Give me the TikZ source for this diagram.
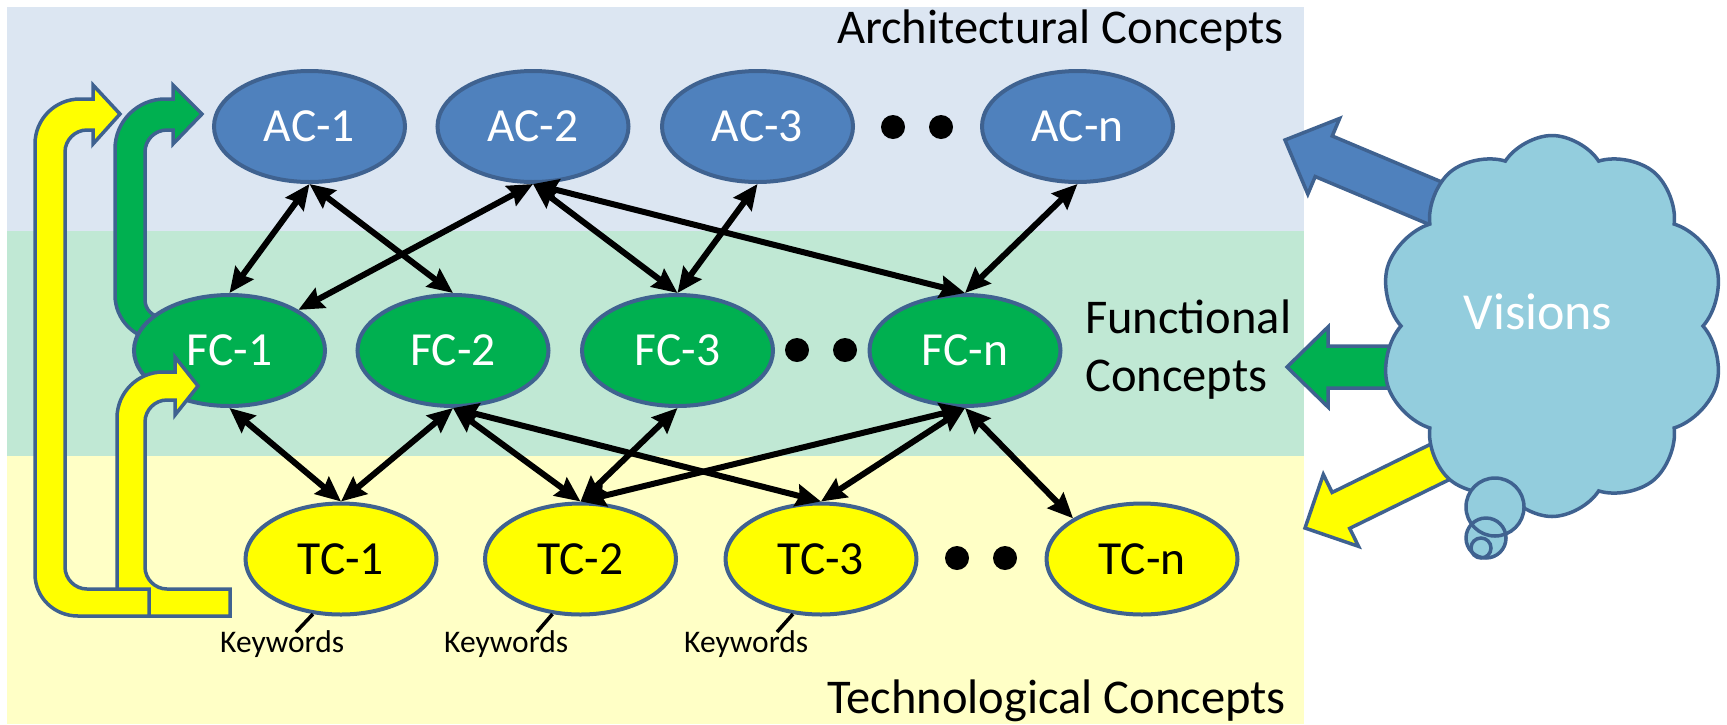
\documentclass[tikz,border=0pt]{standalone}
\usepackage{fontspec}
\setmainfont{Carlito}
\usetikzlibrary{shapes.geometric,shapes.symbols,arrows.meta}
\definecolor{bandblue}{RGB}{220,230,242}
\definecolor{bandgreen}{RGB}{192,232,212}
\definecolor{bandyellow}{RGB}{255,255,198}
\definecolor{acfill}{HTML}{4F81BD}
\definecolor{fcfill}{HTML}{00B050}
\definecolor{tcfill}{HTML}{FFFF00}
\definecolor{edgeblue}{HTML}{3F6290}
\definecolor{cloudfill}{HTML}{93CDDD}
\begin{document}
\begin{tikzpicture}[x=1pt,y=-1pt,
  conc/.style={ellipse, draw=edgeblue, line width=4pt, minimum width=191pt, minimum height=111pt, inner sep=0pt, font=\fontsize{47.5pt}{52pt}\selectfont},
  ac/.style={conc, fill=acfill, text=white},
  fc/.style={conc, fill=fcfill, text=white},
  tc/.style={conc, fill=tcfill, text=black},
  link/.style={{Stealth[length=25pt,width=22pt,inset=3pt]}-{Stealth[length=25pt,width=22pt,inset=3pt]}, line width=6pt, black},
  dotmark/.style={circle, fill=black, minimum size=24pt, inner sep=0pt},
  blockarrow/.style={draw=edgeblue, line width=3.5pt, line join=miter},
  bandlabel/.style={font=\fontsize{48.5pt}{58pt}\selectfont, inner sep=0pt},
  kwlabel/.style={font=\fontsize{31.5pt}{35pt}\selectfont, inner sep=0pt},
  kwtick/.style={line width=3.5pt, black}
]
\useasboundingbox (0,0) rectangle (1727,724);
\fill[white] (0,0) rectangle (1727,724);
% bands
\fill[bandblue] (7,7) rectangle (1304,231);
\fill[bandgreen] (7,231) rectangle (1304,456);
\fill[bandyellow] (7,456) rectangle (1304,724);

% block arrows from the cloud
\begin{scope}[shift={(1285,140)}, rotate=-22.8]
  \filldraw[blockarrow, fill=acfill] (0,0) -- (42,41) -- (42,22) -- (200,22) -- (200,-22) -- (42,-22) -- (42,-41) -- cycle;
\end{scope}
\begin{scope}[shift={(1287,367)}]
  \filldraw[blockarrow, fill=fcfill] (0,0) -- (41,40) -- (41,21) -- (150,21) -- (150,-21) -- (41,-21) -- (41,-40) -- cycle;
\end{scope}
\begin{scope}[shift={(1305,528)}, rotate=26.1]
  \filldraw[blockarrow, fill=tcfill] (0,0) -- (40,40) -- (40,20) -- (190,20) -- (190,-20) -- (40,-20) -- (40,-40) -- cycle;
\end{scope}

% cloud
\node[cloud, cloud puffs=10, cloud puff arc=115, aspect=0.92, minimum width=346pt, minimum height=381pt,
      draw=edgeblue, fill=cloudfill, line width=3.5pt] (vision) at (1552,326) {};
\node[text=white, font=\fontsize{52pt}{56pt}\selectfont, inner sep=0pt] (visionlbl) at (1538,312) {Visions};
\fill[cloudfill] (1495,507) circle (29);
\fill[cloudfill] (1486,538) circle (20);
\fill[cloudfill] (1481,548) circle (10);
\draw[edgeblue, line width=3.5pt] (1495,507) circle (29);
\draw[edgeblue, line width=3.5pt] (1486,538) circle (20);
\draw[edgeblue, line width=3.5pt] (1481,548) circle (10);

% green U-turn arrow (behind FC-1)
\filldraw[blockarrow, fill=fcfill]
  (200,317) -- (162,317) .. controls (152.6,317) and (145,309.4) .. (145,300)
  -- (145,152) .. controls (145,139.8) and (154.8,130) .. (167,130)
  -- (173,130) -- (173,144) -- (202,114) -- (173,85) -- (173,99)
  -- (165,99) .. controls (137.4,99) and (115,121.4) .. (115,149)
  -- (115,295) .. controls (115,319.9) and (135.1,340) .. (160,340)
  -- (200,340) -- cycle;

% concept nodes
\node[ac] (AC1) at (309.5,126.5) {AC-1};
\node[ac] (AC2) at (533,126.5) {AC-2};
\node[ac] (AC3) at (757.5,126.5) {AC-3};
\node[ac] (ACn) at (1077.5,126.5) {AC-n};
\node[dotmark] (dA1) at (893,127) {};
\node[dotmark] (dA2) at (941,127) {};

\node[fc] (FC1) at (229.5,350.5) {FC-1};
\node[fc] (FC2) at (453,350.5) {FC-2};
\node[fc] (FC3) at (677.5,350.5) {FC-3};
\node[fc] (FCn) at (965,350.5) {FC-n};
\node[dotmark] (dF1) at (797,350) {};
\node[dotmark] (dF2) at (845,350) {};

\node[tc] (TC1) at (341,559) {TC-1};
\node[tc] (TC2) at (580.5,559) {TC-2};
\node[tc] (TC3) at (821,559) {TC-3};
\node[tc] (TCn) at (1142,559) {TC-n};
\node[dotmark] (dT1) at (957,558) {};
\node[dotmark] (dT2) at (1005,558) {};

% links
\draw[link] (AC1.south) -- (FC1.north);
\draw[link] (AC1.south) -- (FC2.north);
\draw[link] (AC2.south) -- (FC1.north east);
\draw[link] (AC2.south) -- (FC3.north);
\draw[link] (AC2.south) -- (FCn.north);
\draw[link] (AC3.south) -- (FC3.north);
\draw[link] (ACn.south) -- (FCn.north);
\draw[link] (FC1.south) -- (TC1.north);
\draw[link] (FC2.south) -- (TC1.north);
\draw[link] (FC2.south) -- (TC2.north);
\draw[link] (FC2.south) -- (TC3.north);
\draw[link] (FC3.south) -- (TC2.north);
\draw[link] (FCn.south) -- (TC2.north);
\draw[link] (FCn.south) -- (TC3.north);
\draw[link] (FCn.south) -- (TCn.north west);

% small yellow U-turn arrow (over FC-1)
\filldraw[blockarrow, fill=tcfill]
  (230,589) -- (167,589) .. controls (155,589) and (145,579) .. (145,567)
  -- (145,422) .. controls (145,410) and (155,400) .. (167,400)
  -- (175,400) -- (175,415) -- (198,386) -- (175,357) -- (175,372)
  -- (163,372) .. controls (137.6,372) and (117,392.6) .. (117,418)
  -- (117,616) -- (230,616) -- cycle;
% big yellow U-turn arrow
\filldraw[blockarrow, fill=tcfill]
  (149,589) -- (87,589) .. controls (75,589) and (65,579) .. (65,567)
  -- (65,152) .. controls (65,140) and (75,130) .. (87,130)
  -- (93,130) -- (93,144) -- (120,114) -- (93,85) -- (93,99)
  -- (80,99) .. controls (55.1,99) and (35,119.1) .. (35,144)
  -- (35,574) .. controls (35,597.7) and (54.3,616) .. (78,616)
  -- (149,616) -- cycle;

% keywords
\node[kwlabel, anchor=base west] (KW1) at (220,652) {Keywords};
\node[kwlabel, anchor=base west] (KW2) at (444,652) {Keywords};
\node[kwlabel, anchor=base west] (KW3) at (684,652) {Keywords};
\coordinate (k1) at (296,632);
\coordinate (k2) at (537,632);
\coordinate (k3) at (777,632);
\draw[kwtick] (TC1.243) -- (k1);
\draw[kwtick] (TC2.243) -- (k2);
\draw[kwtick] (TC3.243) -- (k3);

% band labels
\node[bandlabel, anchor=base east] (archlbl) at (1284,43) {Architectural Concepts};
\node[bandlabel, anchor=west, align=left] (funclbl) at (1085,350) {Functional\\Concepts};
\node[bandlabel, anchor=base west] (techlbl) at (827,713) {Technological Concepts};
\end{tikzpicture}
\end{document}
